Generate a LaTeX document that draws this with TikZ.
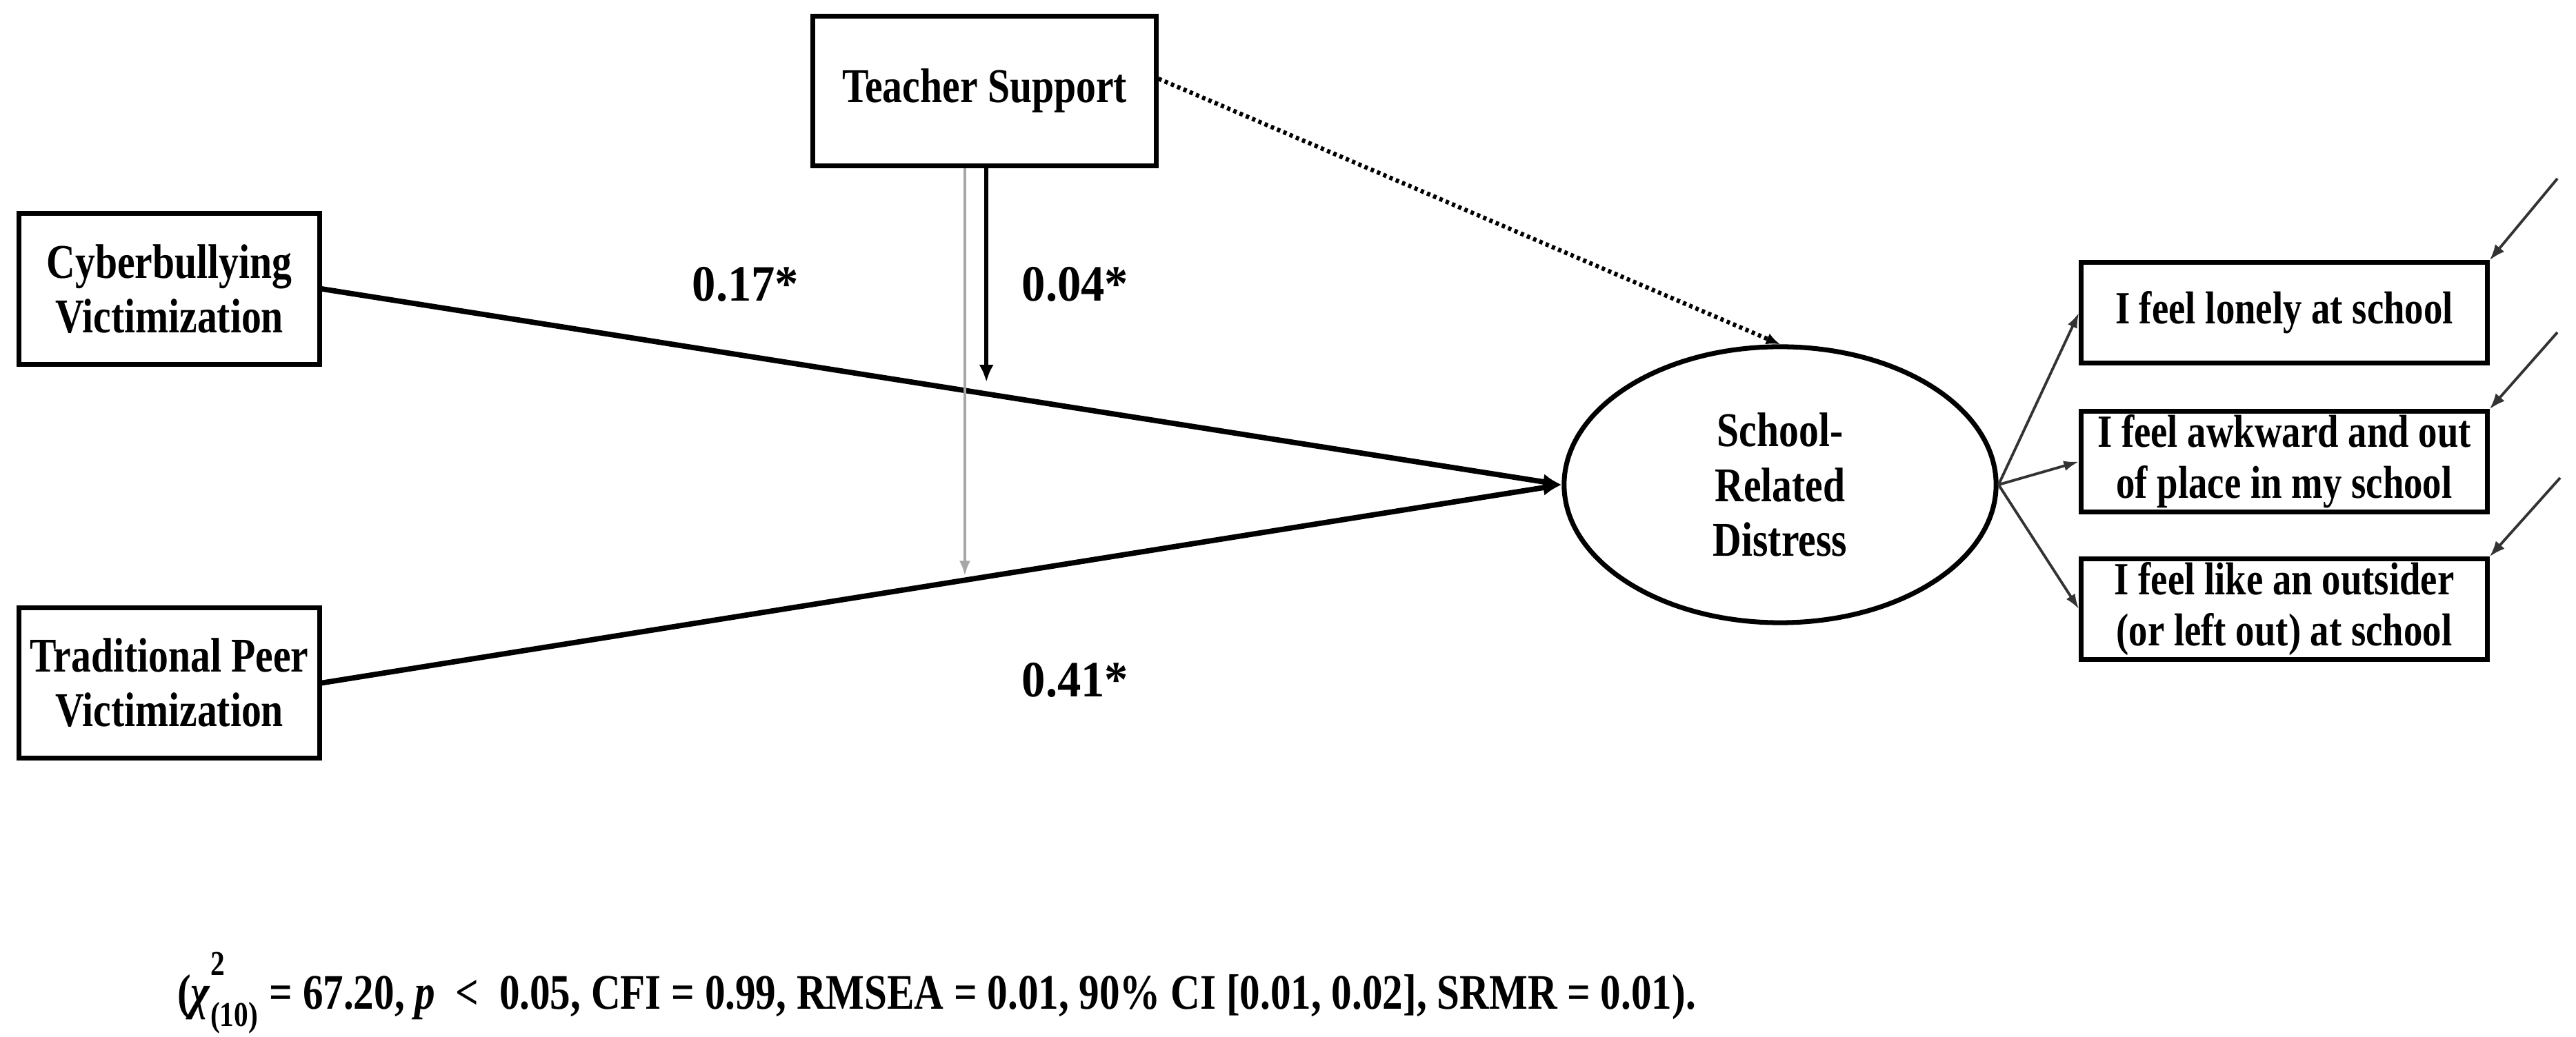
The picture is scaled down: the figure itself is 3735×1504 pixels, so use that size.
\documentclass[tikz,border=0pt]{standalone}
\usepackage{fontspec}
\setmainfont{Liberation Serif}[FakeStretch=0.82]
\newfontfamily\labfont{Liberation Serif}[FakeStretch=0.93]
\usetikzlibrary{shapes.geometric,arrows.meta,calc}
\definecolor{modgray}{HTML}{A6A6A6}
\definecolor{loadgray}{HTML}{333333}
\begin{document}
\begin{tikzpicture}[x=0.01cm,y=-0.01cm,
  box/.style={draw, line width=2pt, align=center, inner sep=0pt, font=\bfseries\fontsize{20}{22.5}\selectfont},
  ind/.style={draw, line width=2pt, align=center, inner sep=0pt, minimum width=5.88cm, minimum height=1.45cm, font=\bfseries\fontsize{19}{21}\selectfont},
  lat/.style={ellipse, draw, line width=2pt, minimum width=6.26cm, minimum height=4.0cm, inner sep=0pt, align=center, font=\bfseries\fontsize{20}{22.5}\selectfont},
  mainarrow/.style={line width=2.2pt, -{Latex[length=0.27cm,width=0.23cm]}},
  modarrow/.style={line width=1.8pt, -{Latex[length=0.25cm,width=0.21cm]}},
  grayarrow/.style={line width=1.3pt, draw=modgray, -{Latex[length=0.22cm,width=0.16cm]}},
  loadarrow/.style={line width=1.1pt, draw=loadgray, -{Latex[length=0.22cm,width=0.15cm]}},
  errarrow/.style={line width=1.1pt, draw=loadgray, -{Latex[length=0.23cm,width=0.17cm]}},
  dotarrow/.style={line width=1.8pt, dash pattern=on 1.4pt off 1.4pt, -{Latex[length=0.2cm,width=0.17cm]}},
  coef/.style={font=\labfont\bfseries\fontsize{21}{24}\selectfont, inner sep=0pt}
]
\useasboundingbox (0,0) rectangle (3735,1504);
\fill[white] (0,0) rectangle (3735,1504);

% nodes
\node[box, minimum width=4.97cm, minimum height=2.16cm] (ts) at (1427.5,132) {Teacher Support};
\node[box, minimum width=4.35cm, minimum height=2.18cm] (cv) at (245.5,419) {Cyberbullying\\Victimization};
\node[box, minimum width=4.35cm, minimum height=2.17cm] (tp) at (245.5,990.5) {Traditional Peer\\Victimization};
\node[lat] (srd) at (2581,703) {School-\\Related\\Distress};
\node[ind] (i1) at (3312,453.5) {I feel lonely at school};
\node[ind] (i2) at (3312,669.5) {I feel awkward and out\\of place in my school};
\node[ind] (i3) at (3312,883.5) {I feel like an outsider\\(or left out) at school};

% coefficients
\node[coef] (c1) at (1081,412) {0.17*};
\node[coef] (c2) at (1559,412) {0.04*};
\node[coef] (c3) at (1559,986) {0.41*};

% fit caption
\node[font=\bfseries\fontsize{20.5}{24}\selectfont, anchor=base, inner sep=0pt] (cap) at (1358,1463)
  {(\textit{χ}\rlap{\raisebox{0.3em}{\textsuperscript{2}}}\raisebox{-0.2em}{\textsubscript{(10)}} = 67.20, \textit{p} ~<~ 0.05, CFI = 0.99, RMSEA = 0.01, 90\% CI [0.01, 0.02], SRMR = 0.01).};

% structural paths
\draw[mainarrow] (cv.east) -- (srd.west);
\draw[mainarrow] (tp.east) -- (srd.west);
\coordinate (m1) at ($(cv.east)!0.536!(srd.west)$);
\coordinate (m2) at ($(tp.east)!0.5186!(srd.west)$);
\draw[grayarrow, shorten >=0.06cm] (m2 |- ts.south) -- (m2);
\draw[modarrow, shorten >=0.17cm] (m1 |- ts.south) -- (m1);
\draw[dotarrow] ($(ts.north east)!0.42!(ts.south east)$) -- (srd.north);

% loadings
\draw[loadarrow] (srd.east) -- (i1.west);
\draw[loadarrow] (srd.east) -- (i2.west);
\draw[loadarrow] (srd.east) -- (i3.west);

% error terms
\coordinate (e1) at (3708,259);
\coordinate (e2) at (3708,482);
\coordinate (e3) at (3712,693);
\draw[errarrow] (e1) -- (i1.north east);
\draw[errarrow] (e2) -- (i2.north east);
\draw[errarrow] (e3) -- (i3.north east);
\end{tikzpicture}
\end{document}
